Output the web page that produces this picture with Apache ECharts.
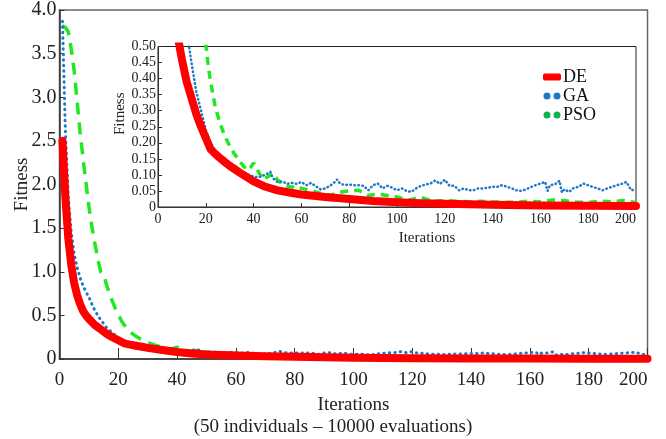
<!DOCTYPE html>
<html>
<head>
<meta charset="utf-8">
<script src="https://cdn.jsdelivr.net/npm/echarts@6.0.0/dist/echarts.min.js"></script>
<style>
  html, body { margin: 0; padding: 0; background: #fff; }
  #chart { width: 666px; height: 439px; }
</style>
</head>
<body>
<div id="chart"></div>
<script>
// DE (red, thick)
const deIter = [1, 2, 3, 4, 5, 6, 7, 8, 9, 10, 12, 14, 16, 18, 20, 22, 24, 26, 28, 30, 35, 40, 45, 50, 55, 60, 70, 80, 90, 100, 110, 120, 140, 160, 180, 200];
const deVal = [2.5, 1.85, 1.38, 1.08, 0.87, 0.73, 0.63, 0.55, 0.5, 0.46, 0.39, 0.34, 0.29, 0.25, 0.215, 0.18, 0.165, 0.152, 0.14, 0.128, 0.103, 0.08, 0.063, 0.052, 0.045, 0.039, 0.031, 0.025, 0.019, 0.015, 0.012, 0.01, 0.007, 0.005, 0.004, 0.003];

// GA (blue, dotted)
const gaIter = [1, 2, 3, 4, 5, 6, 7, 8, 9, 10, 11, 12, 13, 14, 16, 18, 20, 22, 24, 26, 28, 30, 32, 34, 36, 38, 40, 42, 44, 46, 47, 48, 50, 52, 54, 56, 58, 60, 62, 64, 66, 68, 70, 72, 74, 75, 76, 78, 80, 82, 84, 86, 88, 90, 92, 94, 96, 98, 100, 102, 104, 106, 108, 110, 112, 114, 116, 118, 120, 122, 124, 126, 128, 130, 132, 134, 136, 138, 140, 142, 144, 146, 148, 150, 152, 154, 156, 158, 160, 162, 163, 164, 166, 168, 169, 170, 172, 174, 176, 178, 180, 182, 184, 186, 188, 190, 192, 194, 196, 198, 200];
const gaVal = [3.87, 2.6, 1.85, 1.45, 1.2, 1.05, 0.93, 0.84, 0.77, 0.71, 0.63, 0.56, 0.5, 0.45, 0.36, 0.3, 0.24, 0.2, 0.175, 0.16, 0.15, 0.138, 0.13, 0.115, 0.108, 0.1, 0.095, 0.092, 0.098, 0.105, 0.11, 0.09, 0.078, 0.08, 0.072, 0.075, 0.072, 0.078, 0.068, 0.075, 0.065, 0.055, 0.058, 0.066, 0.078, 0.086, 0.075, 0.068, 0.07, 0.068, 0.068, 0.066, 0.052, 0.068, 0.073, 0.058, 0.066, 0.06, 0.052, 0.058, 0.05, 0.047, 0.058, 0.066, 0.07, 0.073, 0.083, 0.072, 0.085, 0.066, 0.066, 0.052, 0.058, 0.052, 0.052, 0.058, 0.058, 0.06, 0.063, 0.063, 0.068, 0.063, 0.058, 0.052, 0.05, 0.055, 0.062, 0.068, 0.073, 0.078, 0.05, 0.068, 0.07, 0.082, 0.045, 0.055, 0.047, 0.06, 0.063, 0.073, 0.068, 0.062, 0.058, 0.052, 0.058, 0.063, 0.068, 0.072, 0.078, 0.052, 0.055];

// PSO (green, dashed)
const psoIter = [1, 2, 3, 4, 5, 6, 7, 8, 9, 10, 11, 12, 13, 14, 15, 16, 17, 18, 19, 20, 21, 22, 24, 26, 28, 30, 32, 34, 36, 38, 40, 42, 44, 46, 48, 50, 52, 54, 56, 58, 60, 64, 68, 72, 76, 80, 84, 88, 92, 96, 100, 105, 110, 115, 120, 125, 130, 135, 140, 145, 150, 155, 160, 165, 170, 175, 180, 185, 190, 195, 200];
const psoVal = [3.82, 3.8, 3.75, 3.55, 3.3, 2.95, 2.6, 2.3, 2.02, 1.75, 1.52, 1.33, 1.15, 1.0, 0.97, 0.85, 0.75, 0.66, 0.58, 0.51, 0.44, 0.39, 0.31, 0.26, 0.22, 0.19, 0.165, 0.145, 0.125, 0.115, 0.137, 0.11, 0.085, 0.095, 0.105, 0.085, 0.07, 0.065, 0.062, 0.065, 0.058, 0.052, 0.042, 0.036, 0.046, 0.05, 0.052, 0.036, 0.04, 0.036, 0.031, 0.022, 0.03, 0.018, 0.02, 0.018, 0.016, 0.018, 0.016, 0.015, 0.015, 0.018, 0.016, 0.022, 0.02, 0.015, 0.014, 0.018, 0.016, 0.02, 0.014];

const mainYTicks = { min: 0, max: 4, interval: 0.5 };
const insetYTicks = { min: 0, max: 0.5, interval: 0.05 };
const xTicks = { min: 0, max: 200, interval: 20 };

const FONT = '"Liberation Serif", "Times New Roman", serif';
const RED = '#ff0000';
const BLUE = '#1f77c8';
const GREEN = '#22e822';

const zip = (xs, ys) => xs.map((x, i) => [x, ys[i]]);

const chart = echarts.init(document.getElementById('chart'), null, { renderer: 'canvas' });

function xAxisOf(gridIndex, opts) {
  return {
    type: 'value',
    gridIndex,
    min: xTicks.min,
    max: xTicks.max,
    interval: xTicks.interval,
    name: 'Iterations',
    nameLocation: 'middle',
    nameGap: opts.nameGap,
    nameMoveOverlap: false,
    nameTextStyle: { fontFamily: FONT, fontSize: opts.nameSize, color: '#222', padding: opts.namePadding || 0 },
    axisLine: { lineStyle: { color: '#333', width: opts.lineWidth } },
    axisTick: { inside: true, length: opts.tickLen, lineStyle: { color: '#333' } },
    axisLabel: { fontFamily: FONT, fontSize: opts.labelSize, color: '#222', margin: opts.margin, alignMaxLabel: 'right' },
    splitLine: { show: false },
    z: opts.z
  };
}

function yAxisOf(gridIndex, ticks, opts) {
  return {
    type: 'value',
    gridIndex,
    min: ticks.min,
    max: ticks.max,
    interval: ticks.interval,
    name: 'Fitness',
    nameLocation: 'middle',
    nameGap: opts.nameGap,
    nameMoveOverlap: false,
    nameTextStyle: { fontFamily: FONT, fontSize: opts.nameSize, color: '#222', padding: opts.namePadding || 0 },
    axisLine: { lineStyle: { color: '#333', width: opts.lineWidth } },
    axisTick: { inside: true, length: opts.tickLen, lineStyle: { color: '#333' } },
    axisLabel: {
      fontFamily: FONT, fontSize: opts.labelSize, color: '#222', margin: opts.margin,
      formatter: v => (v === 0 ? '0' : v.toFixed(opts.digits))
    },
    splitLine: { show: false },
    z: opts.z
  };
}

// main chart series sit under the inset, inset series on top of its white background
function seriesSet(idx, main) {
  const base = main ? 2 : 12;
  return [
    {
      name: 'PSO', type: 'line', xAxisIndex: idx, yAxisIndex: idx,
      data: zip(psoIter, psoVal), showSymbol: false, z: base,
      lineStyle: { color: GREEN, width: 3.5, type: main ? [12, 8] : [8, 6] },
      itemStyle: { color: GREEN }
    },
    {
      name: 'GA', type: 'line', xAxisIndex: idx, yAxisIndex: idx,
      data: zip(gaIter, gaVal), showSymbol: false, z: base + 1,
      lineStyle: { color: BLUE, width: main ? 3 : 2.5, type: main ? [0.5, 5] : [0.5, 3.5], cap: 'round' },
      itemStyle: { color: BLUE }
    },
    {
      name: 'DE', type: 'line', xAxisIndex: idx, yAxisIndex: idx,
      data: zip(deIter, deVal), showSymbol: false, z: base + 2,
      lineStyle: { color: RED, width: 8, cap: 'round', join: 'round' },
      itemStyle: { color: RED }
    }
  ];
}

const dots = 'path://M0.5,3.5a3.5,3.5 0 1,0 7,0a3.5,3.5 0 1,0 -7,0zM10.5,3.5a3.5,3.5 0 1,0 7,0a3.5,3.5 0 1,0 -7,0z';

const option = {
  animation: false,
  backgroundColor: '#fff',
  grid: [
    { left: 59.5, right: 18.5, top: 10, bottom: 80, outerBoundsMode: 'none', show: true, borderColor: '#666', borderWidth: 1.5 },
    { left: 158, right: 30, top: 46.5, bottom: 232, outerBoundsMode: 'none', show: true, borderColor: '#222', borderWidth: 1, backgroundColor: '#fff', z: 5 }
  ],
  xAxis: [
    xAxisOf(0, { nameGap: 37, nameSize: 19, labelSize: 19, margin: 12, tickLen: 11, lineWidth: 1.5, z: 1 }),
    xAxisOf(1, { nameGap: 24, nameSize: 15, labelSize: 14, margin: 5, tickLen: 4, lineWidth: 1, namePadding: [0, 0, 0, 60], z: 11 })
  ],
  yAxis: [
    yAxisOf(0, mainYTicks, { nameGap: 28, nameSize: 19, labelSize: 20, margin: 3, tickLen: 5, lineWidth: 1.5, digits: 1, z: 1 }),
    yAxisOf(1, insetYTicks, { nameGap: 30, nameSize: 15, labelSize: 14, margin: 2, tickLen: 4, lineWidth: 1, digits: 2, namePadding: [0, 0, 0, 26], z: 11 })
  ],
  legend: {
    z: 20,
    orient: 'vertical',
    left: 543,
    top: 68,
    padding: 0,
    itemGap: 1,
    itemWidth: 18,
    itemHeight: 7,
    textStyle: { fontFamily: FONT, fontSize: 18, color: '#111', padding: [0, 0, 0, -3] },
    data: [
      { name: 'DE', icon: 'roundRect', itemStyle: { color: RED } },
      { name: 'GA', icon: dots, itemStyle: { color: BLUE } },
      { name: 'PSO', icon: dots, itemStyle: { color: '#12b04a' } }
    ]
  },
  graphic: [
    {
      type: 'text', left: 'center', top: 418,
      style: { text: '(50 individuals \u2013 10000 evaluations)', fontFamily: FONT, fontSize: 19, fill: '#222' },
      x: 17
    }
  ],
  series: [...seriesSet(0, true), ...seriesSet(1, false)]
};

chart.setOption(option);
</script>
</body>
</html>
